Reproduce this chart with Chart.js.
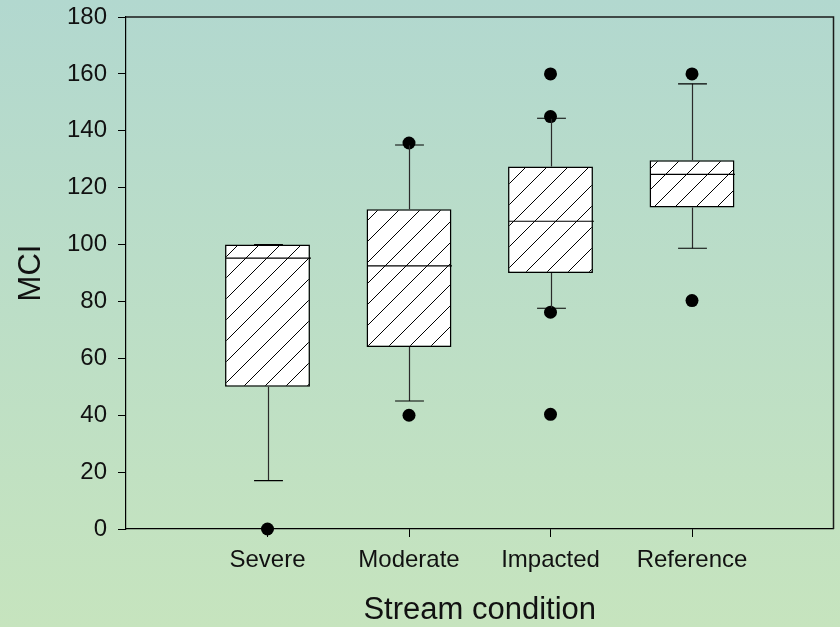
<!DOCTYPE html>
<html>
<head>
<meta charset="utf-8">
<script src="https://cdn.jsdelivr.net/npm/chart.js@4/dist/chart.umd.min.js"></script>
<style>
  html, body { margin: 0; padding: 0; background: #c2e2c1; }
  body { width: 840px; height: 627px; overflow: hidden; }
</style>
</head>
<body>
<canvas id="chart" width="840" height="627"></canvas>
<script>
// MCI scores by stream condition (box plot summaries)
const categories    = ['Severe', 'Moderate', 'Impacted', 'Reference'];
const lowerQuartile = [50, 64, 90, 113];
const medians       = [95.2, 92.5, 108.2, 124.7];
const upperQuartile = [100, 112.4, 127.4, 129.6];
const whiskerLow    = [17, 45, 77.6, 98.7];
const whiskerHigh   = [100, 135, 144.4, 156.5];
const outliers      = [[0], [40, 135.7], [160, 145, 76.2, 40.3], [160, 80.3]];
const yTickValues   = [0, 20, 40, 60, 80, 100, 120, 140, 160, 180];

const FONT = "'Liberation Sans', Arial, sans-serif";

// diagonal "/" hatch fill for the boxes: lines x + y = k on a repeating tile
function hatchPattern() {
  const s = 21;
  const c = document.createElement('canvas');
  c.width = s; c.height = s;
  const g = c.getContext('2d');
  g.fillStyle = '#ffffff';
  g.fillRect(0, 0, s, s);
  g.strokeStyle = '#000000';
  g.lineWidth = 1;
  g.beginPath();
  [0, s, 2 * s].forEach(k => {
    g.moveTo(k + 2, -2);
    g.lineTo(k - s - 2, s + 2);
  });
  g.stroke();
  return g.createPattern(c, 'repeat');
}

const outlierPoints = [];
outliers.forEach((vals, i) => vals.forEach(v => outlierPoints.push({ x: i + 1, y: v })));

const backgroundPlugin = {
  id: 'gradientBackground',
  beforeDraw(chart) {
    const { ctx, width, height } = chart;
    const grad = ctx.createLinearGradient(0, 0, 0, height);
    grad.addColorStop(0, '#b2d8cf');
    grad.addColorStop(1, '#c6e4be');
    ctx.save();
    ctx.fillStyle = grad;
    ctx.fillRect(0, 0, width, height);
    ctx.restore();
  }
};

const framePlugin = {
  id: 'frame',
  afterDraw(chart) {
    const { ctx, chartArea: a } = chart;
    ctx.save();
    ctx.strokeStyle = '#1a1a1a';
    ctx.lineWidth = 1.5;
    ctx.beginPath();
    ctx.moveTo(a.left, a.top);
    ctx.lineTo(a.right, a.top);
    ctx.lineTo(a.right, a.bottom);
    ctx.stroke();
    ctx.restore();
  }
};

const whiskerPlugin = {
  id: 'whiskers',
  afterDatasetsDraw(chart) {
    const { ctx, scales: { x, y } } = chart;
    const boxes = chart.getDatasetMeta(1).data;
    ctx.save();
    categories.forEach((c, i) => {
      const cx = Math.round(x.getPixelForValue(i + 1)) + 0.5;
      const half = boxes[i].width / 2;
      const capHalf = half * 0.34;
      const yq1 = y.getPixelForValue(lowerQuartile[i]);
      const yq3 = y.getPixelForValue(upperQuartile[i]);
      const ylo = y.getPixelForValue(whiskerLow[i]);
      const yhi = y.getPixelForValue(whiskerHigh[i]);
      const ymed = y.getPixelForValue(medians[i]);
      ctx.strokeStyle = '#2a2a2a';
      ctx.lineWidth = 1.2;
      ctx.beginPath();
      ctx.moveTo(cx, yq3); ctx.lineTo(cx, yhi);
      ctx.moveTo(cx, yq1); ctx.lineTo(cx, ylo);
      ctx.stroke();
      ctx.strokeStyle = '#000';
      ctx.lineWidth = 1.2;
      ctx.beginPath();
      ctx.moveTo(cx - capHalf, yhi); ctx.lineTo(cx + capHalf, yhi);
      ctx.moveTo(cx - capHalf, ylo); ctx.lineTo(cx + capHalf, ylo);
      ctx.moveTo(cx - half, ymed); ctx.lineTo(cx + half, ymed);
      ctx.stroke();
    });
    ctx.restore();
  }
};

new Chart(document.getElementById('chart'), {
  type: 'bar',
  data: {
    datasets: [
      {
        type: 'scatter',
        label: 'Outliers',
        data: outlierPoints,
        pointRadius: 6.5,
        pointHoverRadius: 6.5,
        backgroundColor: '#000',
        borderWidth: 0,
        clip: false
      },
      {
        type: 'bar',
        label: 'Interquartile range',
        data: categories.map((c, i) => ({ x: i + 1, y: [lowerQuartile[i], upperQuartile[i]] })),
        backgroundColor: hatchPattern(),
        borderColor: '#000',
        borderWidth: 1.5,
        borderSkipped: false,
        barPercentage: 0.6,
        categoryPercentage: 1
      }
    ]
  },
  options: {
    responsive: false,
    animation: false,
    devicePixelRatio: 1,
    layout: { padding: { left: 0, right: 4, top: 17, bottom: 0 } },
    plugins: { legend: { display: false }, tooltip: { enabled: false } },
    scales: {
      x: {
        type: 'linear',
        offset: false,
        min: 0,
        max: 5,
        afterBuildTicks(scale) { scale.ticks = categories.map((c, i) => ({ value: i + 1 })); },
        afterFit(scale) { scale.height = 98; scale.paddingLeft = 0; scale.paddingRight = 0; },
        ticks: {
          callback: (v) => categories[v - 1] || '',
          font: { family: FONT, size: 24 },
          color: '#111',
          padding: 9,
          maxRotation: 0,
          autoSkip: false
        },
        grid: { offset: false, drawOnChartArea: false, drawTicks: true, tickLength: 8, color: '#000', lineWidth: 1 },
        border: { color: '#000', width: 1.2 },
        title: {
          display: true,
          text: 'Stream condition',
          font: { family: FONT, size: 31 },
          color: '#111',
          padding: { top: 0, bottom: -2 }
        }
      },
      y: {
        type: 'linear',
        min: 0,
        max: 180,
        afterBuildTicks(scale) { scale.ticks = yTickValues.map(v => ({ value: v })); },
        afterFit(scale) { scale.width = 126; scale.paddingTop = 0; scale.paddingBottom = 0; },
        ticks: {
          font: { family: FONT, size: 24 },
          color: '#111',
          padding: 11
        },
        grid: { drawOnChartArea: false, drawTicks: true, tickLength: 8, color: '#000', lineWidth: 1 },
        border: { color: '#000', width: 1.2 },
        title: {
          display: true,
          text: 'MCI',
          font: { family: FONT, size: 31 },
          color: '#111',
          padding: { top: 13, bottom: 0 }
        }
      }
    }
  },
  plugins: [backgroundPlugin, whiskerPlugin, framePlugin]
});
</script>
</body>
</html>
